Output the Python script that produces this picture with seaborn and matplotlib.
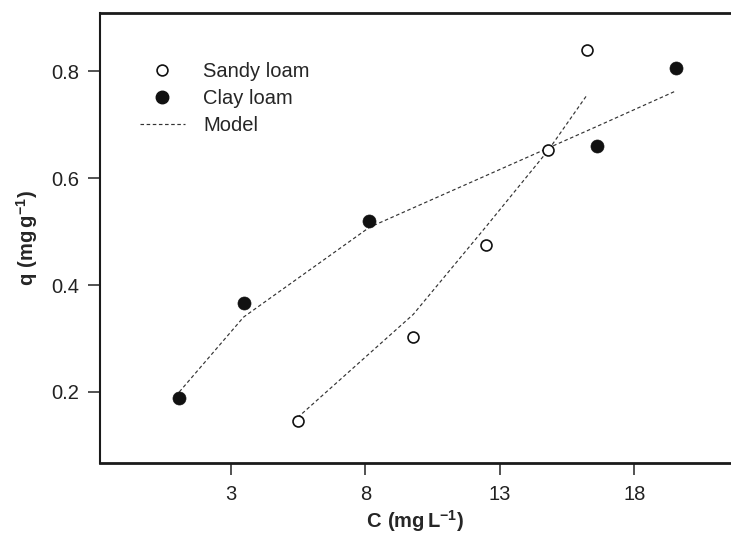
import numpy as np
import pandas as pd
import matplotlib
matplotlib.use("Agg")
import matplotlib.pyplot as plt
from matplotlib.lines import Line2D
import seaborn as sns

# Data
sandy_c = [5.48, 9.78, 12.5, 14.8, 16.25]
sandy_q = [0.146, 0.303, 0.475, 0.653, 0.839]
sandy_model = [0.152, 0.345, 0.51, 0.652, 0.756]

clay_c = [1.08, 3.47, 8.15, 16.62, 19.54]
clay_q = [0.189, 0.366, 0.519, 0.661, 0.806]
clay_model = [0.200, 0.340, 0.508, 0.697, 0.763]

x_ticks = [3, 8, 13, 18]
y_ticks = [0.2, 0.4, 0.6, 0.8]

sns.set_theme(style="ticks")
plt.rcParams['font.family'] = ['Liberation Sans', 'DejaVu Sans']
plt.rcParams['mathtext.fontset'] = 'custom'
plt.rcParams['mathtext.rm'] = 'Liberation Sans'
plt.rcParams['mathtext.bf'] = 'Liberation Sans:bold'

FS = 14.5

fig = plt.figure(figsize=(7.31, 5.39), dpi=100)
ax = fig.add_axes([100/731, 1-463/539, 1-100/731, (463-12.5)/539])

sandy = pd.DataFrame({"C": sandy_c, "q": sandy_q, "model": sandy_model})
clay = pd.DataFrame({"C": clay_c, "q": clay_q, "model": clay_model})

line_kw = dict(color="#333333", linewidth=0.85, dashes=(3, 2.2))
sns.lineplot(data=sandy, x="C", y="model", ax=ax, **line_kw)
sns.lineplot(data=clay, x="C", y="model", ax=ax, **line_kw)

sns.scatterplot(data=sandy, x="C", y="q", ax=ax, s=62, facecolor="white",
                edgecolor="#111111", linewidth=1.2, zorder=5)
sns.scatterplot(data=clay, x="C", y="q", ax=ax, s=88, color="#111111",
                edgecolor="#111111", linewidth=0.5, zorder=5)

ax.set_xlim(-1.87, 21.6)
ax.set_ylim(0.067, 0.91)
ax.set_xticks(x_ticks)
ax.set_xticklabels([str(t) for t in x_ticks])
ax.set_yticks(y_ticks)
ax.set_yticklabels([f"{t:.1f}" for t in y_ticks])

for side in ["left", "top", "bottom"]:
    ax.spines[side].set_visible(True)
    ax.spines[side].set_color("#1a1a1a")
ax.spines["left"].set_linewidth(1.5)
ax.spines["top"].set_linewidth(2.0)
ax.spines["bottom"].set_linewidth(2.0)
ax.spines["right"].set_visible(False)

ax.tick_params(axis="both", direction="out", length=8.6, width=1.3,
               color="#444444", labelsize=FS, labelcolor="#222222")
ax.tick_params(axis="x", pad=7.5)
ax.tick_params(axis="y", pad=6.5)

ax.set_xlabel(r"$\mathbf{C\ (mg\,L^{-1})}$", fontsize=FS, labelpad=3)
ax.set_ylabel(r"$\mathbf{q\ (mg\,g^{-1})}$", fontsize=FS, labelpad=8)

handles = [
    Line2D([], [], linestyle="none", marker="o", markersize=7.8,
           markerfacecolor="white", markeredgecolor="#111111", markeredgewidth=1.2),
    Line2D([], [], linestyle="none", marker="o", markersize=9.0,
           markerfacecolor="#111111", markeredgecolor="#111111"),
    Line2D([], [], color="#333333", linewidth=0.85, dashes=(3, 2.2)),
]
labels = ["Sandy loam", "Clay loam", "Model"]
ax.legend(handles, labels, loc="upper left", bbox_to_anchor=(0.063, 0.891),
          frameon=False, fontsize=FS, handlelength=2.25, handletextpad=0.9,
          labelspacing=0.4, borderaxespad=0, borderpad=0)

fig.savefig("out.png", dpi=100)
